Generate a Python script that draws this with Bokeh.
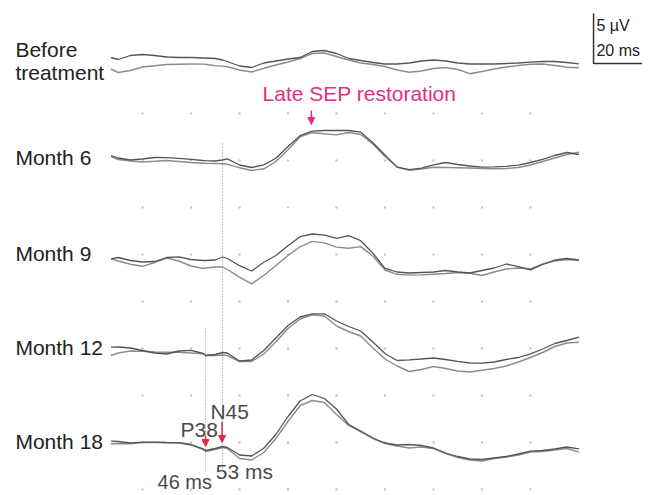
import numpy as np
from bokeh.plotting import figure
from bokeh.models import Range1d, Label, Arrow, NormalHead
from bokeh.embed import file_html
from bokeh.resources import INLINE

# time axis (ms)
T = [7, 10, 15, 20, 25, 30, 35, 40, 45, 46, 50, 53, 55, 60, 65, 70, 75, 80, 85, 90,
     95, 100, 105, 110, 115, 120, 125, 130, 135, 140, 145, 150, 155, 160, 165, 170,
     175, 180, 185, 190, 195, 200]

# amplitudes (µV) relative to each row's baseline; two superimposed trials per row
before_a = [0.5, 0.3, 0.7, 0.8, 0.7, 0.55, 0.5, 0.5, 0.45, 0.45, 0.4, 0.25,
            0.1, -0.35, -0.5, -0.05, 0.15, 0.35, 0.5, 1.1, 1.2, 0.9,
            0.4, 0.2, 0.0, -0.15, -0.15, -0.05, 0.15, 0.25, 0.15, -0.05,
            -0.15, -0.15, -0.15, -0.1, -0.05, 0.03, 0.1, 0.1, 0.0, -0.13]
before_b = [-0.65, -1.0, -0.8, -0.45, -0.33, -0.2, -0.17, -0.15, -0.16, -0.18, -0.32, -0.36,
            -0.43, -0.75, -0.95, -0.58, -0.25, 0.05, 0.4, 0.9, 0.95, 0.6,
            0.25, -0.05, -0.2, -0.4, -0.75, -0.98, -0.85, -0.6, -0.5, -0.7,
            -1.12, -0.9, -0.65, -0.45, -0.3, -0.18, -0.15, -0.3, -0.47, -0.53]
m6_a = [0.5, 0.25, 0.05, 0.15, 0.3, 0.28, 0.22, 0.12, 0.0, -0.02, -0.05, 0.05,
        0.17, -0.45, -0.7, -0.44, 0.23, 1.4, 2.48, 2.94, 3.0, 3.0,
        3.0, 2.83, 1.78, 0.55, -0.66, -0.91, -0.77, -0.44, -0.2, -0.4,
        -0.55, -0.67, -0.64, -0.58, -0.47, -0.2, 0.12, 0.5, 0.8, 0.6]
m6_b = [0.4, 0.1, -0.05, -0.15, -0.08, 0.0, -0.1, -0.2, -0.27, -0.28, -0.3, -0.32,
        -0.38, -0.72, -1.0, -0.83, -0.1, 1.08, 2.36, 2.78, 2.67, 2.56,
        2.8, 2.6, 1.65, 0.4, -0.65, -0.98, -0.85, -0.68, -0.7, -0.72,
        -0.75, -0.8, -0.83, -0.8, -0.7, -0.45, -0.1, 0.25, 0.6, 0.83]
m9_a = [0.17, 0.3, 0.0, -0.15, -0.1, 0.3, 0.37, 0.1, 0.0, 0.0, 0.05, 0.35,
        0.2, -0.52, -1.05, -0.17, 0.5, 1.47, 2.38, 2.65, 2.53, 2.22,
        2.48, 1.98, 0.74, -0.78, -1.15, -1.25, -1.2, -1.15, -1.0, -1.15,
        -1.25, -1.0, -0.75, -0.35, -0.62, -0.93, -0.4, 0.05, 0.2, 0.07]
m9_b = [0.17, -0.05, -0.38, -0.58, -0.2, 0.25, -0.05, -0.55, -0.8, -0.75, -0.65, -0.65,
        -0.9, -1.67, -2.33, -1.5, -0.5, 0.5, 1.37, 1.91, 1.76, 1.34,
        1.22, 1.39, 0.45, -0.95, -1.38, -1.46, -1.44, -1.37, -1.3, -1.2,
        -1.28, -1.5, -1.15, -0.85, -0.75, -0.83, -0.35, -0.05, 0.1, 0.0]
m12_a = [0.53, 0.55, 0.45, 0.2, -0.05, -0.15, 0.15, 0.22, -0.1, -0.3, -0.2, 0.0,
         -0.05, -0.85, -0.75, 0.2, 1.45, 2.7, 3.55, 3.87, 3.87, 3.15,
         2.6, 2.15, 1.05, -0.1, -0.8, -0.73, -0.65, -0.55, -0.7, -0.88,
         -1.05, -1.07, -0.95, -0.7, -0.5, -0.13, 0.35, 0.9, 1.2, 1.53]
m12_b = [-0.3, -0.05, 0.15, 0.13, 0.05, 0.03, 0.03, -0.05, -0.13, -0.3, -0.3, -0.25,
         -0.3, -0.9, -0.9, -0.15, 1.05, 2.4, 3.35, 3.77, 3.65, 2.65,
         2.1, 1.65, 0.45, -0.65, -1.35, -1.9, -1.7, -1.4, -1.6, -1.85,
         -1.95, -1.78, -1.6, -1.35, -0.95, -0.5, 0.0, 0.6, 0.95, 1.03]
m18_a = [0.23, 0.2, 0.05, 0.13, 0.13, 0.1, 0.08, -0.1, -0.54, -0.7, -0.5, -0.3,
         -0.4, -1.15, -1.25, -0.48, 0.9, 2.7, 4.25, 4.9, 4.5, 3.45,
         1.9, 1.25, 0.55, 0.05, -0.15, -0.1, -0.2, -0.45, -0.95, -1.3,
         -1.55, -1.6, -1.45, -1.3, -1.05, -0.77, -0.7, -0.55, -0.35, -0.53]
m18_b = [-0.03, 0.0, -0.03, 0.1, 0.1, 0.07, 0.05, -0.15, -0.6, -0.8, -0.6, -0.4,
         -0.5, -1.5, -1.65, -0.9, 0.5, 2.2, 3.8, 4.3, 4.1, 2.9,
         1.8, 1.15, 0.5, 0.0, -0.25, -0.45, -0.35, -0.5, -1.0, -1.4,
         -1.65, -1.75, -1.5, -1.35, -1.15, -0.85, -0.8, -0.65, -0.5, -0.87]

ROW_NAMES = ["Before", "Month 6", "Month 9", "Month 12", "Month 18"]
ROW_OFFSETS = [-6.2, -16.0, -26.0, -35.2, -44.3]
TRACES = [(before_a, before_b), (m6_a, m6_b), (m9_a, m9_b), (m12_a, m12_b), (m18_a, m18_b)]

GRID_T = [20, 40, 60, 80, 100, 120, 140, 160, 180]
GRID_ROWS = [-11.3, -16.0, -20.7, -25.4, -30.1, -34.8, -39.5, -44.2, -48.9]

LAT_P38 = 46
LAT_N45 = 53
SCALE_UV = 5
SCALE_MS = 20

FONT = "Liberation Sans"

p = figure(width=656, height=495, x_range=Range1d(-38.56, 231.96), y_range=Range1d(-49.5, 0),
           output_backend="svg", toolbar_location=None, min_border=0,
           x_axis_location=None, y_axis_location=None)
p.grid.visible = False
p.outline_line_color = None
p.background_fill_color = "white"

gx, gy = np.meshgrid(GRID_T, GRID_ROWS)
p.scatter(gx.ravel(), gy.ravel(), marker="square", size=2.2, color="#c4c4c4", line_color=None)

# dotted latency lines
p.segment(x0=[LAT_N45, LAT_P38], y0=[-14.3, -32.8], x1=[LAT_N45, LAT_P38], y1=[-46.8, -47.0],
          line_color="#8a8a8a", line_width=1, line_dash="1 2")

for (a, b), off in zip(TRACES, ROW_OFFSETS):
    p.line(T, np.array(b) + off, line_color="#8c8c8c", line_width=1.4)
    p.line(T, np.array(a) + off, line_color="#555555", line_width=1.3)

# row labels
lx = -32.4
p.add_layout(Label(x=lx, y=-4.85, text="Before", text_font=FONT, text_font_size="21px",
                   text_baseline="middle", text_color="#222222"))
p.add_layout(Label(x=lx, y=-7.2, text="treatment", text_font=FONT, text_font_size="21px",
                   text_baseline="middle", text_color="#222222"))
for name, yy in zip(ROW_NAMES[1:], [-15.7, -25.3, -34.7, -44.1]):
    p.add_layout(Label(x=lx, y=yy, text=name, text_font=FONT, text_font_size="21px",
                       text_baseline="middle", text_color="#222222"))

# Late SEP restoration
mag = "#e2307e"
p.add_layout(Label(x=69.5, y=-9.3, text="Late SEP restoration", text_font=FONT,
                   text_font_size="21px", text_baseline="middle", text_color=mag))
p.add_layout(Arrow(end=NormalHead(size=7, fill_color=mag, line_color=mag),
                   x_start=89.6, y_start=-11.0, x_end=89.6, y_end=-12.4,
                   line_color=mag, line_width=1.5))

# P38 / N45 annotations
red = "#dc2f3f"
txt = "#4a4a4a"
p.add_layout(Label(x=35.7, y=-42.9, text="P38", text_font=FONT, text_font_size="21px",
                   text_baseline="middle", text_color=txt))
p.add_layout(Label(x=48.0, y=-41.1, text="N45", text_font=FONT, text_font_size="21px",
                   text_baseline="middle", text_color=txt))
p.add_layout(Arrow(end=NormalHead(size=7, fill_color=red, line_color=red),
                   x_start=LAT_P38, y_start=-43.5, x_end=LAT_P38, y_end=-44.6,
                   line_color=red, line_width=1.5))
p.add_layout(Arrow(end=NormalHead(size=7, fill_color=red, line_color=red),
                   x_start=LAT_N45 - 0.2, y_start=-42.1, x_end=LAT_N45 - 0.2, y_end=-44.2,
                   line_color=red, line_width=1.5))
p.add_layout(Label(x=50.2, y=-47.1, text=f"{LAT_N45} ms", text_font=FONT, text_font_size="21px",
                   text_baseline="middle", text_color=txt))
p.add_layout(Label(x=26.2, y=-48.1, text=f"{LAT_P38} ms", text_font=FONT, text_font_size="20px",
                   text_baseline="middle", text_color=txt))

# scale bar
sx, sy = 206.0, -6.3
p.line([sx, sx, sx + SCALE_MS], [sy + SCALE_UV, sy, sy], line_color="#333333", line_width=1.5)
p.add_layout(Label(x=sx + 1.2, y=-2.45, text=f"{SCALE_UV} µV", text_font=FONT,
                   text_font_size="16px", text_baseline="middle", text_color="#222222"))
p.add_layout(Label(x=sx + 1.2, y=-5.0, text=f"{SCALE_MS} ms", text_font=FONT,
                   text_font_size="16px", text_baseline="middle", text_color="#222222"))

open("out.html", "w").write(file_html(p, INLINE))
